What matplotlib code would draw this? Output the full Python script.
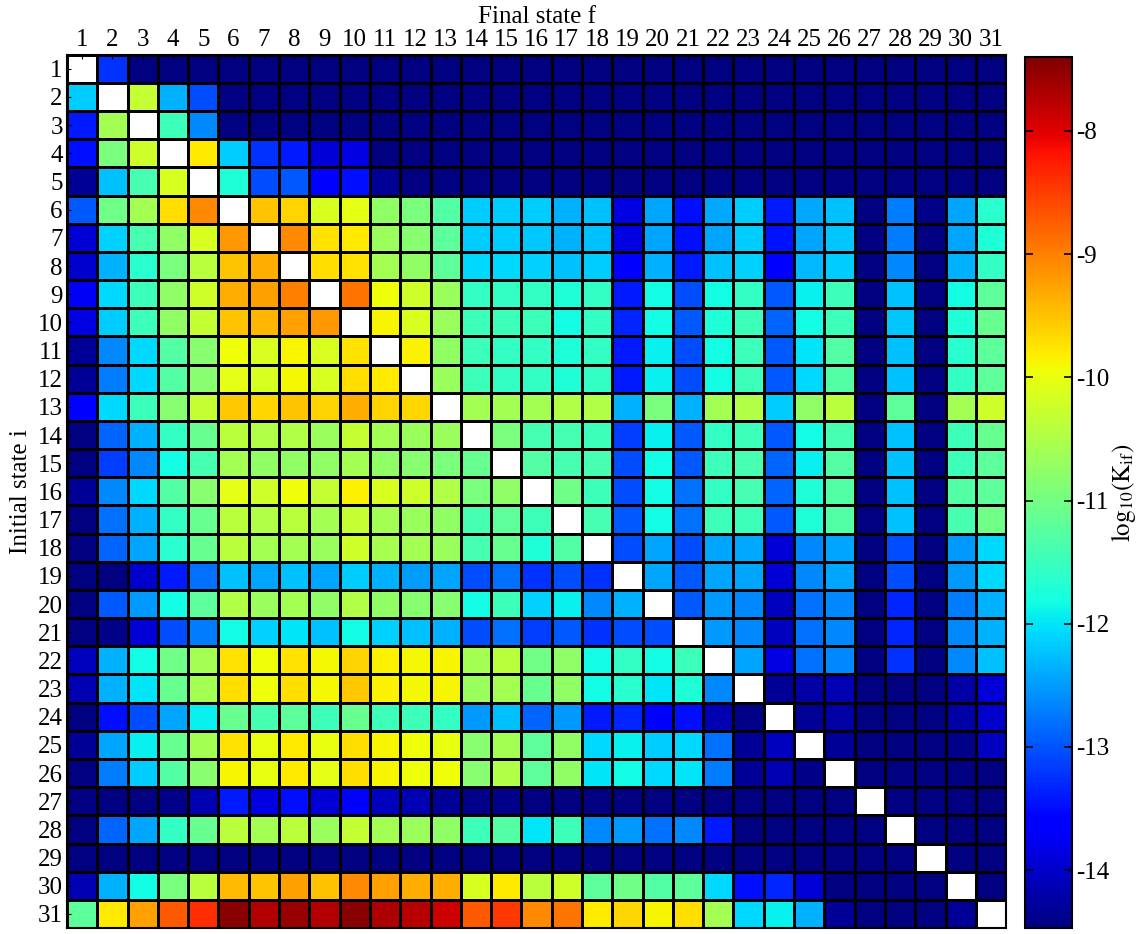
import matplotlib
matplotlib.use("Agg")
import matplotlib.pyplot as plt
import numpy as np

# log10(K_if), rows = initial state i, cols = final state f
nan = np.nan
N = -14.47  # darkest navy cells

states = list(range(1, 32))
cbar_ticks = [-8, -9, -10, -11, -12, -13, -14]

log_k = [
    [nan, -13.24, N, N, N, N, N, N, N, N, N, N, N, N, N, N, N, N, N, N, N, N, N, N, N, N, N, N, N, N, N],
    [-12.17, nan, -10.32, -12.35, -13.06, N, N, N, N, N, N, N, N, N, N, N, N, N, N, N, N, N, N, N, N, N, N, N, N, N, N],
    [-13.41, -10.58, nan, -11.47, -12.62, N, N, N, N, N, N, N, N, N, N, N, N, N, N, N, N, N, N, N, N, N, N, N, N, N, N],
    [-13.5, -10.94, -10.23, nan, -9.78, -12.17, -13.24, -13.41, -13.93, -13.85, N, N, N, N, N, N, N, N, N, N, N, N, N, N, N, N, N, N, N, N, N],
    [-14.31, -12.26, -11.38, -10.14, nan, -11.73, -13.06, -12.97, -13.69, -13.5, -14.31, N, N, N, N, N, N, N, N, N, N, N, N, N, N, N, N, N, N, N, N],
    [-12.97, -11.02, -10.58, -9.7, -9.08, nan, -9.52, -9.61, -10.14, -10.05, -10.76, -10.94, -11.29, -12.17, -12.17, -12.17, -12.35, -12.26, -13.85, -12.44, -13.5, -12.4, -12.17, -13.41, -12.4, -12.26, N, -12.71, -14.39, -12.44, -11.64],
    [-13.93, -12.13, -11.38, -10.76, -10.14, -9.17, nan, -9.08, -9.73, -9.78, -10.67, -10.85, -11.2, -12.17, -12.17, -12.2, -12.35, -12.26, -13.85, -12.44, -13.5, -12.44, -12.17, -13.45, -12.44, -12.22, N, -12.71, N, -12.44, -11.73],
    [-14.0, -12.35, -11.64, -10.94, -10.41, -9.52, -9.34, nan, -9.7, -9.73, -10.58, -10.76, -11.2, -12.09, -12.09, -12.13, -12.26, -12.17, -13.6, -12.35, -13.41, -12.26, -12.13, -13.6, -12.3, -12.17, N, -12.62, N, -12.35, -11.55],
    [-13.75, -12.09, -11.47, -10.76, -10.23, -9.34, -9.25, -8.99, nan, -8.9, -9.96, -10.23, -10.67, -11.55, -11.55, -11.55, -11.73, -11.55, -13.41, -11.82, -13.06, -11.82, -11.55, -12.97, -11.91, -11.47, N, -12.26, N, -11.82, -11.2],
    [-13.85, -12.17, -11.47, -10.76, -10.32, -9.52, -9.4, -9.25, -9.17, nan, -9.87, -10.14, -10.67, -11.47, -11.47, -11.47, -11.82, -11.55, -13.32, -11.82, -12.97, -11.73, -11.47, -12.88, -11.82, -11.47, N, -12.22, N, -11.73, -11.11],
    [-14.31, -12.62, -12.09, -11.29, -10.85, -9.96, -10.14, -9.87, -10.14, -9.73, nan, -9.84, -10.76, -11.47, -11.55, -11.55, -11.73, -11.55, -13.41, -11.91, -13.06, -11.82, -11.47, -12.97, -12.0, -11.29, N, -12.26, N, -11.64, -11.2],
    [-14.31, -12.71, -12.09, -11.29, -10.85, -10.05, -10.14, -9.91, -10.14, -9.7, -9.78, nan, -10.67, -11.47, -11.55, -11.55, -11.73, -11.55, -13.41, -11.91, -13.06, -11.82, -11.47, -12.97, -12.09, -11.29, N, -12.26, N, -11.55, -11.2],
    [-13.69, -12.09, -11.47, -10.85, -10.32, -9.55, -9.66, -9.52, -9.61, -9.34, -9.61, -9.66, nan, -10.58, -10.58, -10.58, -10.49, -10.49, -12.35, -10.94, -12.35, -10.58, -10.49, -12.17, -10.76, -10.41, N, -11.2, N, -10.58, -10.23],
    [N, -12.88, -12.35, -11.55, -11.11, -10.41, -10.49, -10.49, -10.67, -10.32, -10.58, -10.67, -10.67, nan, -10.94, -11.38, -11.38, -11.47, -13.15, -11.91, -12.97, -11.55, -11.47, -12.97, -11.82, -11.38, N, -12.26, N, -11.47, -11.11],
    [N, -13.15, -12.62, -11.82, -11.38, -10.58, -10.76, -10.76, -10.76, -10.58, -10.76, -10.85, -10.94, -11.11, nan, -11.29, -11.38, -11.38, -13.06, -11.82, -12.97, -11.47, -11.38, -12.88, -11.91, -11.29, N, -12.26, N, -11.47, -11.2],
    [-14.31, -12.62, -12.09, -11.29, -10.85, -10.05, -10.23, -9.96, -10.32, -9.84, -10.14, -10.23, -10.49, -10.94, -10.76, nan, -11.02, -11.47, -13.06, -11.82, -12.79, -11.55, -11.38, -12.88, -11.73, -11.29, N, -12.26, N, -11.29, -11.2],
    [N, -12.79, -12.35, -11.55, -11.11, -10.41, -10.49, -10.41, -10.58, -10.32, -10.58, -10.67, -10.76, -11.38, -11.2, -11.47, nan, -11.38, -12.97, -11.82, -12.79, -11.47, -11.47, -12.97, -11.73, -11.29, N, -12.26, N, -11.38, -11.02],
    [N, -12.88, -12.44, -11.64, -11.11, -10.41, -10.58, -10.58, -10.67, -10.23, -10.55, -10.58, -10.67, -11.38, -11.11, -11.73, -11.29, nan, -13.06, -12.44, -13.06, -12.44, -12.4, -13.93, -12.62, -12.44, N, -13.06, N, -12.53, -12.09],
    [N, N, -14.0, -13.41, -12.79, -12.26, -12.44, -12.26, -12.44, -12.17, -12.35, -12.5, -12.44, -13.06, -12.79, -13.24, -13.06, -13.24, nan, -12.44, -12.97, -12.44, -12.44, -13.93, -12.62, -12.44, N, -13.06, N, -12.53, -12.09],
    [N, -12.97, -12.53, -11.82, -11.2, -10.49, -10.67, -10.58, -10.76, -10.49, -10.76, -10.85, -10.85, -11.82, -11.47, -12.13, -11.91, -12.62, -12.35, nan, -12.97, -12.53, -12.62, -14.08, -12.79, -12.62, N, -13.32, N, -12.71, -12.35],
    [N, -14.39, -13.93, -13.06, -12.71, -11.82, -12.13, -12.0, -12.26, -11.82, -12.13, -12.26, -12.35, -13.06, -12.79, -13.15, -12.97, -13.24, -13.06, -13.06, nan, -12.53, -12.62, -14.08, -12.79, -12.62, N, -13.32, N, -12.62, -12.35],
    [-14.08, -12.35, -11.82, -11.02, -10.58, -9.73, -9.96, -9.73, -9.91, -9.61, -9.84, -9.91, -9.87, -10.58, -10.41, -11.02, -10.76, -11.82, -11.55, -11.82, -11.47, nan, -12.44, -13.85, -12.79, -12.62, N, -13.24, N, -12.62, -12.26],
    [-14.16, -12.35, -12.0, -11.11, -10.58, -9.7, -9.96, -9.7, -9.91, -9.55, -9.84, -9.91, -9.87, -10.67, -10.58, -11.11, -10.76, -11.82, -11.64, -12.0, -11.73, -12.62, nan, -14.31, -14.24, -14.16, N, N, N, -14.24, -13.93],
    [N, -13.5, -13.06, -12.44, -11.91, -11.11, -11.38, -11.2, -11.47, -11.11, -11.47, -11.47, -11.55, -12.53, -12.26, -12.88, -12.53, -13.41, -13.32, -13.69, -13.5, -14.16, -14.39, nan, -14.31, -14.24, N, N, N, -14.24, -14.0],
    [-14.31, -12.44, -11.91, -11.11, -10.58, -9.73, -10.0, -9.78, -10.0, -9.7, -9.87, -9.96, -10.0, -10.85, -10.58, -11.2, -10.76, -12.09, -11.91, -12.17, -12.09, -12.79, -14.31, -14.08, nan, -14.31, N, N, N, -14.39, -14.08],
    [N, -12.71, -12.17, -11.29, -10.85, -9.87, -10.02, -9.78, -10.05, -9.7, -9.87, -9.96, -9.96, -10.85, -10.49, -11.2, -10.76, -12.0, -11.82, -12.09, -12.0, -12.71, -14.31, -14.16, -14.39, nan, N, N, N, N, N],
    [N, N, N, -14.39, -14.16, -13.41, -13.85, -13.5, -13.93, -13.69, -14.08, -14.16, -14.31, -14.39, -14.39, N, N, N, N, N, N, N, N, N, N, N, nan, N, N, N, N],
    [N, -12.88, -12.44, -11.55, -11.11, -10.41, -10.58, -10.41, -10.67, -10.32, -10.58, -10.67, -10.76, -11.47, -11.29, -12.0, -11.47, -12.62, -12.53, -12.79, -12.62, -13.41, N, N, N, N, N, nan, N, N, N],
    [N, N, N, N, N, N, N, N, N, N, N, N, N, N, N, N, N, N, N, N, N, N, N, N, N, N, N, N, nan, N, N],
    [-14.16, -12.35, -11.82, -10.94, -10.41, -9.43, -9.52, -9.25, -9.48, -9.08, -9.25, -9.34, -9.34, -10.14, -9.78, -10.41, -10.23, -11.2, -11.02, -11.29, -11.2, -12.09, -13.5, -13.32, -13.93, N, N, N, N, nan, N],
    [-11.2, -9.78, -9.25, -8.72, -8.37, -7.48, -7.71, -7.56, -7.71, -7.48, -7.68, -7.74, -7.87, -8.72, -8.46, -9.08, -8.9, -9.78, -9.66, -9.87, -9.7, -10.58, -12.09, -11.91, -12.35, -14.31, N, N, N, -14.31, nan],
]

vmin, vmax = -14.47, -7.40

plt.rcParams['font.family'] = ['Liberation Serif', 'DejaVu Serif']
plt.rcParams['mathtext.fontset'] = 'stix'
plt.rcParams['axes.unicode_minus'] = False

data = np.ma.masked_invalid(np.array(log_k))
cmap = plt.get_cmap('jet').copy()
cmap.set_bad('white')

fig = plt.figure(figsize=(11.37, 9.34), dpi=100)
ax = fig.add_axes([0.0589, 0.0064, 0.826, 0.935])

edges = np.arange(0.5, len(states) + 1)
mesh = ax.pcolormesh(edges, edges, data, cmap=cmap, vmin=vmin, vmax=vmax,
                     edgecolors='k', linewidth=2)
ax.set_xlim(0.5, 31.5)
ax.set_ylim(31.5, 0.5)
ax.set_xticks(states)
ax.set_yticks(states)
ax.set_xticklabels(states)
ax.set_yticklabels(states)
ax.xaxis.tick_top()
ax.xaxis.set_label_position('top')
ax.tick_params(direction='in', length=3, labelsize=18, pad=3)
ax.set_xlabel('Final state f', fontsize=18, labelpad=4)
ax.set_ylabel('Initial state i', fontsize=18, labelpad=4)
for s in ax.spines.values():
    s.set_linewidth(1.5)

cax = fig.add_axes([0.9015, 0.0064, 0.0413, 0.9325])
cb = fig.colorbar(mesh, cax=cax)
cb.set_ticks(cbar_ticks)
cb.ax.tick_params(direction='in', left=True, right=True, length=6, width=1.2,
                  labelsize=18, pad=3)
cb.outline.set_linewidth(1.5)
cb.set_label(r'$\mathrm{log_{10}(K_{if})}$', fontsize=18, labelpad=0)

fig.savefig('out.png', dpi=100)
